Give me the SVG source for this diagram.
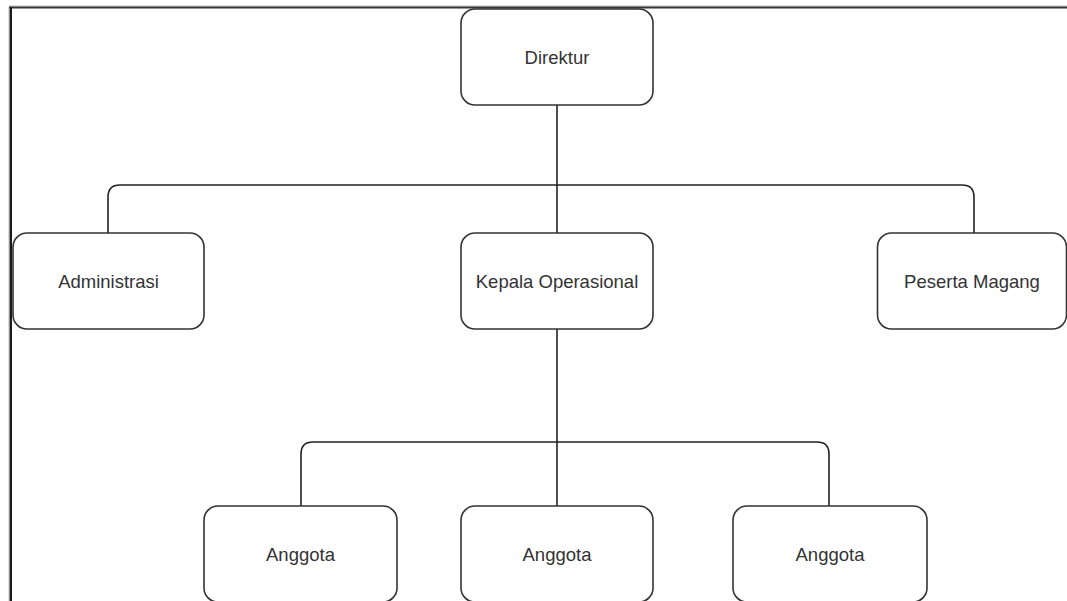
<svg xmlns="http://www.w3.org/2000/svg" width="1067" height="601" viewBox="0 0 1067 601">
<style>
.node rect{fill:#fff;stroke:#333;stroke-width:1.6}
.node text{font-family:"Liberation Sans",Arial,sans-serif;font-size:18.5px;fill:#333;text-anchor:middle}
.conn path{fill:none;stroke:#222;stroke-width:1.6}
</style>
<rect x="0" y="0" width="1067" height="601" fill="#fff"/>
<g id="frame">
<line x1="9" y1="6" x2="1067" y2="6" stroke="#bbb" stroke-width="1"/>
<line x1="9" y1="7.5" x2="1067" y2="7.5" stroke="#333" stroke-width="2"/>
<line x1="9" y1="7" x2="9" y2="601" stroke="#bbb" stroke-width="1"/>
<line x1="10.8" y1="7" x2="10.8" y2="601" stroke="#1a1a1a" stroke-width="2.4"/>
</g>
<g class="conn" id="connectors">
<path d="M557 105 V233"/>
<path d="M108 233 V197 Q108 185 120 185 H962 Q974 185 974 197 V233"/>
<path d="M557 329 V506"/>
<path d="M301 506 V454 Q301 442 313 442 H817 Q829 442 829 454 V506"/>
</g>
<g class="node" id="direktur"><rect x="461" y="9" width="192" height="96" rx="14"/><text x="557" y="64">Direktur</text></g>
<g class="node" id="administrasi"><rect x="13" y="233" width="191" height="96" rx="14"/><text x="108.5" y="288">Administrasi</text></g>
<g class="node" id="kepala"><rect x="461" y="233" width="192" height="96" rx="14"/><text x="557" y="288">Kepala Operasional</text></g>
<g class="node" id="peserta"><rect x="877.5" y="233" width="189" height="96" rx="14"/><text x="972" y="288">Peserta Magang</text></g>
<g class="node" id="anggota1"><rect x="204" y="506" width="193" height="96" rx="14"/><text x="300.5" y="561">Anggota</text></g>
<g class="node" id="anggota2"><rect x="461" y="506" width="192" height="96" rx="14"/><text x="557" y="561">Anggota</text></g>
<g class="node" id="anggota3"><rect x="733" y="506" width="194" height="96" rx="14"/><text x="830" y="561">Anggota</text></g>
</svg>
